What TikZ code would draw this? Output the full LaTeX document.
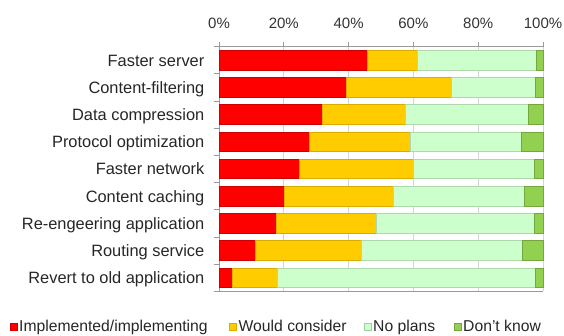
\documentclass[tikz,border=0pt]{standalone}
\usepackage{fontspec}
\setmainfont{Liberation Sans}
\definecolor{rouge}{HTML}{FF0000}
\definecolor{jaune}{HTML}{FFCC00}
\definecolor{vertclair}{HTML}{CCFFCC}
\definecolor{vert}{HTML}{92D050}
\begin{document}
\begin{tikzpicture}[x=1pt,y=-1pt]
\tikzstyle{grille} = [draw=black!17,line width=0.8pt] %lignes de fond
\tikzstyle{axe} = [draw=black!40,line width=0.8pt]
\tikzstyle{barre} = [line width=0.5pt]
\tikzstyle{etiq} = [font=\fontsize{16.4}{18}\selectfont,text=black!85,inner sep=0pt,anchor=base east]
\tikzstyle{pct} = [font=\fontsize{15}{17}\selectfont,text=black!80,inner sep=0pt,anchor=base]
\tikzstyle{leg} = [font=\fontsize{15.7}{17}\selectfont,text=black!85,inner sep=0pt,anchor=base west]
\tikzstyle{carre} = [minimum size=7pt,inner sep=0pt,line width=0.5pt]

\useasboundingbox (0,0) rectangle (564,335);

%grille et axes
\foreach \p in {20,40,...,100}
  \draw[grille] ({219+3.24*\p},46.5)--({219+3.24*\p},291.3);
\foreach \p in {0,20,...,100}{
  \draw[axe] ({219+3.24*\p},41.5)--({219+3.24*\p},46.5);
  \node[pct] (pct\p) at ({219+3.24*\p},28.5) {\p\%};
}
\draw[axe] (219,46.5)--(543,46.5);
\draw[axe] (219,46.5)--(219,291.3);
\draw[axe] (219,291.3)--(543,291.3);
\foreach \k in {0,...,9}
  \draw[axe] (214,{46.5+27.2*\k})--(219,{46.5+27.2*\k});

%barres empilees
\foreach \nom/\a/\b/\c [count=\i] in {
  Faster server/45.6/61.1/98.0,
  Content-filtering/39.4/71.8/97.5,
  Data compression/31.9/57.6/95.4,
  Protocol optimization/27.9/59.0/93.2,
  Faster network/24.8/60.0/97.3,
  Content caching/20.2/53.8/94.1,
  Re-engeering application/17.6/48.4/97.3,
  Routing service/11.3/43.8/93.7,
  Revert to old application/4.1/18.1/97.5}{
  \pgfmathsetmacro\yc{46.5+(\i-0.5)*27.2}
  \node[etiq] (cat\i) at (204.5,\yc+6) {\nom};
  \filldraw[barre,fill=rouge,draw=rouge!80!black] (219,\yc-9.8) rectangle ({219+3.24*\a},\yc+9.8);
  \filldraw[barre,fill=jaune,draw=jaune!85!black] ({219+3.24*\a},\yc-9.8) rectangle ({219+3.24*\b},\yc+9.8);
  \filldraw[barre,fill=vertclair,draw=vertclair!85!black] ({219+3.24*\b},\yc-9.8) rectangle ({219+3.24*\c},\yc+9.8);
  \filldraw[barre,fill=vert,draw=vert!80!black] ({219+3.24*\c},\yc-9.8) rectangle (543,\yc+9.8);
}

%legende
\node[carre,fill=rouge,draw=rouge!80!black] (cr) at (13.7,327) {};
\node[leg] (lr) at (19,331.5) {Implemented/implementing};
\node[carre,fill=jaune,draw=jaune!85!black] (cj) at (233,327) {};
\node[leg] (lj) at (238.5,331.5) {Would consider};
\node[carre,fill=vertclair,draw=vertclair!80!black] (cc) at (367.7,327) {};
\node[leg] (lc) at (373,331.5) {No plans};
\node[carre,fill=vert,draw=vert!80!black] (cv) at (457.7,327) {};
\node[leg] (lv) at (463,331.5) {Don't know};
\end{tikzpicture}
\end{document}
